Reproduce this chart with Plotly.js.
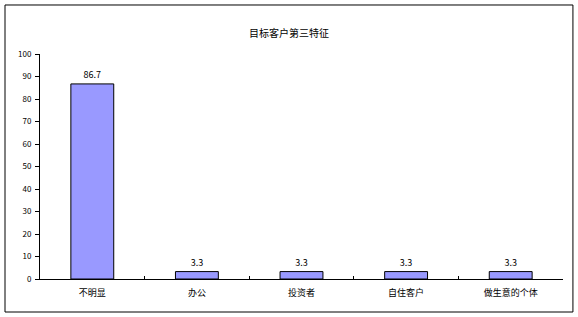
<!DOCTYPE html>
<html>
<head>
<meta charset="utf-8">
<script src="https://cdn.plot.ly/plotly-3.0.1.min.js"></script>
<style>
  html, body { margin: 0; padding: 0; background: #fff; }
  #chart { width: 578px; height: 317px; }
</style>
</head>
<body>
<div id="chart"></div>
<script>
// Customer segment shares (%)
const categories = ['不明显', '办公', '投资者', '自住客户', '做生意的个体'];
const shares = [86.7, 3.3, 3.3, 3.3, 3.3];
const chartTitle = '目标客户第三特征';

const cjkFont = '"SimSun", "Noto Sans CJK SC", sans-serif';

const trace = {
  type: 'bar',
  x: categories,
  y: shares,
  width: 0.41,
  marker: { color: '#9999FF', line: { color: '#000', width: 1 } },
  text: shares.map(v => v.toFixed(1)),
  textposition: 'outside',
  cliponaxis: false,
  textfont: { family: cjkFont, size: 9, color: '#000' },
  hoverinfo: 'skip'
};

const layout = {
  width: 578,
  height: 317,
  margin: { l: 40, r: 15, t: 54, b: 38 },
  paper_bgcolor: '#fff',
  plot_bgcolor: '#fff',
  showlegend: false,
  title: {
    text: chartTitle,
    font: { family: cjkFont, size: 10, color: '#000' },
    x: 0.5, xanchor: 'center', y: 0.895, yanchor: 'middle', yref: 'container'
  },
  xaxis: {
    type: 'category',
    showline: true, linecolor: '#000', linewidth: 1,
    showgrid: false, zeroline: false,
    ticks: 'inside', tickson: 'boundaries', ticklen: 3, tickcolor: '#000',
    ticklabelstandoff: 5,
    tickfont: { family: cjkFont, size: 9, color: '#000' },
    fixedrange: true
  },
  yaxis: {
    range: [0, 100], dtick: 10,
    showline: true, linecolor: '#000', linewidth: 1,
    showgrid: false, zeroline: false,
    ticks: 'outside', ticklen: 4, tickcolor: '#000',
    ticklabelstandoff: 2,
    tickfont: { family: cjkFont, size: 8, color: '#000' },
    fixedrange: true
  },
  shapes: [{
    type: 'rect', xref: 'paper', yref: 'paper',
    x0: -0.0669, x1: 1.019, y0: -0.1467, y1: 1.2178,
    line: { color: '#000', width: 1 }, fillcolor: 'rgba(0,0,0,0)', layer: 'below'
  }]
};

Plotly.newPlot('chart', [trace], layout, { displayModeBar: false, staticPlot: true });
</script>
</body>
</html>
